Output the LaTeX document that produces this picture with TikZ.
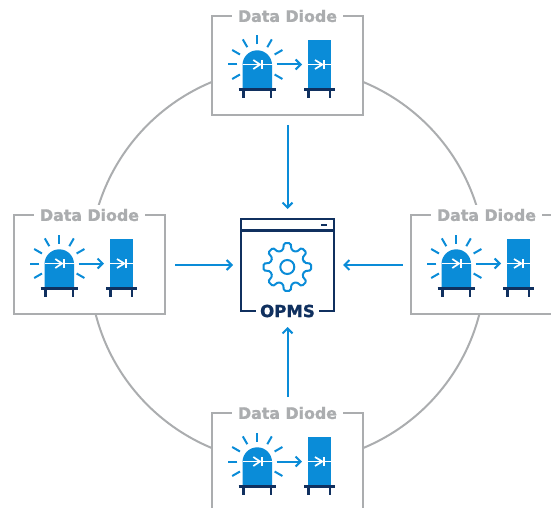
\documentclass[tikz,border=0pt]{standalone}
\usepackage{fontspec}
\usetikzlibrary{arrows.meta}
\newfontfamily\labelfont[BoldFeatures={FakeBold=1.2}]{DejaVu Sans}
\definecolor{iconblue}{HTML}{0A8CD8}
\definecolor{iconnavy}{HTML}{10305F}
\definecolor{framegray}{HTML}{ABADAF}
\tikzset{
  unitbox/.style={draw=framegray,line width=2.1pt,fill=white,minimum width=151pt,minimum height=99pt,outer sep=0pt,inner sep=0pt},
  unittitle/.style={fill=white,minimum width=111pt,minimum height=20pt,inner sep=0pt,text=framegray,font=\labelfont\bfseries\fontsize{15.8}{16}\selectfont},
  bluestroke/.style={draw=iconblue,line width=2pt},
  navystroke/.style={draw=iconnavy,line width=2.4pt},
  whitestroke/.style={draw=white,line width=1.7pt},
  flow/.style={draw=iconblue,line width=2pt,-{Straight Barb[length=5pt,width=10pt,line width=2pt]}},
  diodeicon/.pic={
    % lamp
    \fill[iconblue] (-45,23.5) -- (-45,-0.5) .. controls (-45,-8.6) and (-38.4,-15.2) .. (-30.25,-15.2) .. controls (-22.1,-15.2) and (-15.5,-8.6) .. (-15.5,-0.5) -- (-15.5,23.5) -- cycle;
    \foreach \a in {0,30,150,180,210,240,270,300,330}
      \draw[bluestroke] (-30.2,-1) ++(\a:20) -- ++(\a:9);
    \draw[whitestroke] (-45,-1) -- (-15.5,-1);
    \draw[whitestroke] (-34.2,-5.5) -- (-27.5,-1) -- (-34.2,3.5);
    \draw[whitestroke] (-25.5,-5.5) -- (-25.5,3.5);
    \draw[navystroke] (-49,24) -- (-11.5,24);
    \draw[navystroke] (-44,24) -- (-44,32.5);
    \draw[navystroke] (-16.5,24) -- (-16.5,32.5);
    % arrow
    \draw[flow] (-10.8,-1) -- (14.5,-1);
    % block
    \fill[iconblue] (20.2,-25.5) rectangle (43.5,23.5);
    \draw[whitestroke] (20.2,-1) -- (43.5,-1);
    \draw[whitestroke] (27.5,-5.5) -- (34.8,-1) -- (27.5,3.5);
    \draw[whitestroke] (36.5,-5.5) -- (36.5,3.5);
    \draw[navystroke] (16.5,24) -- (47.5,24);
    \draw[navystroke] (20.8,24) -- (20.8,32.5);
    \draw[navystroke] (42.5,24) -- (42.5,32.5);
  }
}
\begin{document}
\begin{tikzpicture}[x=1pt,y=-1pt]
\useasboundingbox (0,0) rectangle (551,508);
\clip (0,0) rectangle (551,508);
\draw[framegray,line width=2pt] (287.5,265) circle[radius=198pt];
\node[unitbox] (dt) at (287.5,65.5) {};
\node[unitbox] (dl) at (89.5,264.5) {};
\node[unitbox] (dr) at (486.5,264.5) {};
\node[unitbox] (db) at (287.5,462.5) {};
\node[unittitle] at (dt.north) {Data Diode};
\node[unittitle] at (dl.north) {Data Diode};
\node[unittitle] at (dr.north) {Data Diode};
\node[unittitle] at (db.north) {Data Diode};
\pic at (dt.center) {diodeicon};
\pic at (dl.center) {diodeicon};
\pic at (dr.center) {diodeicon};
\pic at (db.center) {diodeicon};
% OPMS window
\node[draw=iconnavy,line width=2.2pt,fill=white,minimum width=93pt,minimum height=92pt,outer sep=0pt,inner sep=0pt] (opms) at (287.5,265) {};
\draw[draw=iconnavy,line width=3pt] (241,230) -- (334,230);
\draw[draw=iconnavy,line width=2pt] (321,225) -- (327,225);
\node[fill=white,minimum width=63pt,minimum height=16pt,inner sep=0pt,text=iconnavy,font=\labelfont\bfseries\fontsize{16.6}{17}\selectfont] at (opms.south) {OPMS};
% gear
\begin{scope}[shift={(287.3,267)}]
\draw[bluestroke,rounded corners=1.4pt] (-14:17.5) \foreach \a in {0,45,...,315}{ -- (\a-14:17.5) -- (\a-8:24) -- (\a+8:24) -- (\a+14:17.5)} -- cycle;
\draw[bluestroke] (0,0) circle[radius=7pt];
\end{scope}
% connectors
\draw[flow,shorten <=10pt,shorten >=10pt] (dt) -- (opms);
\draw[flow,shorten <=16pt,shorten >=16pt] (db) -- (opms);
\draw[flow,shorten <=10pt,shorten >=8pt] (dl.east |- opms.west) -- (opms.west);
\draw[flow,shorten <=8.5pt,shorten >=9pt] (dr.west |- opms.east) -- (opms.east);
\end{tikzpicture}
\end{document}
